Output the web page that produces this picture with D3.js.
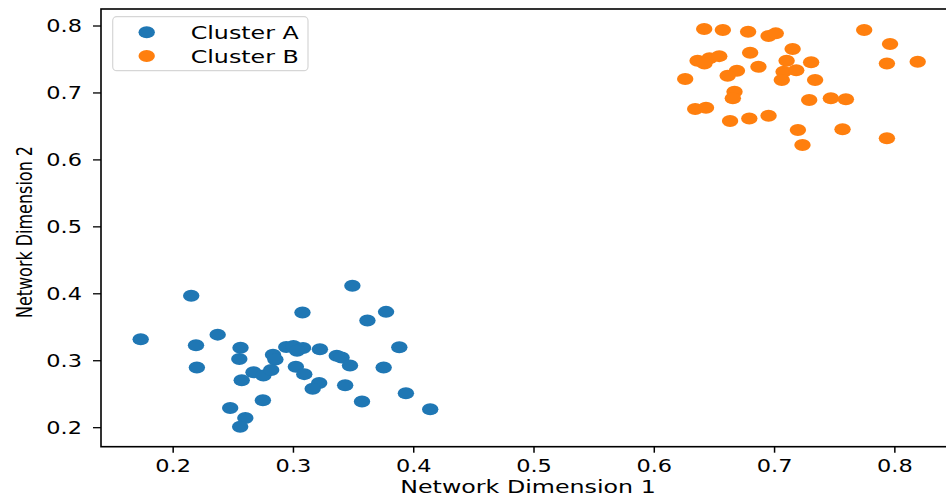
<!DOCTYPE html>
<html>
<head>
<meta charset="utf-8">
<script src="https://cdn.jsdelivr.net/npm/d3@7"></script>
<style>
  body { margin: 0; background: #fff; }
  svg { display: block; }
  text { font-family: "DejaVu Sans", sans-serif; fill: #000; }
</style>
</head>
<body>
<svg width="946" height="497"></svg>
<script>
// cluster points
let clusterA = [
    [0.215,0.397],[0.173,0.332],[0.349,0.412],[0.3075,0.372],[0.377,0.373],
    [0.3615,0.360],[0.237,0.339],[0.219,0.323],[0.256,0.3195],[0.388,0.320],
    [0.294,0.3205],[0.300,0.322],[0.308,0.319],[0.303,0.315],[0.322,0.317],
    [0.255,0.3026],[0.283,0.309],[0.285,0.302],[0.336,0.3075],[0.340,0.305],
    [0.2197,0.290],[0.347,0.293],[0.375,0.290],[0.302,0.291],[0.309,0.280],
    [0.2668,0.2827],[0.275,0.278],[0.2815,0.2862],[0.257,0.271],[0.3214,0.2667],
    [0.316,0.258],[0.343,0.2633],[0.2746,0.241],[0.357,0.239],[0.3935,0.2513],
    [0.2474,0.2294],[0.4137,0.2275],[0.260,0.2145],[0.2557,0.2015]
]
let clusterB = [
    [0.6415,0.7955],[0.657,0.794],[0.678,0.7915],[0.695,0.785],[0.701,0.789],
    [0.7745,0.794],[0.796,0.773],[0.715,0.7657],[0.6797,0.760],[0.636,0.748],
    [0.6459,0.7518],[0.654,0.755],[0.6417,0.744],[0.710,0.748],[0.7304,0.7458],
    [0.7934,0.744],[0.819,0.7467],[0.6866,0.739],[0.6687,0.733],[0.661,0.7258],
    [0.7075,0.7318],[0.718,0.734],[0.706,0.7193],[0.7337,0.7193],[0.6257,0.7208],
    [0.6667,0.7019],[0.6653,0.692],[0.7288,0.6895],[0.7468,0.692],[0.7593,0.6905],
    [0.634,0.676],[0.643,0.678],[0.663,0.658],[0.679,0.662],[0.695,0.666],
    [0.7194,0.6447],[0.7565,0.6457],[0.7934,0.6323],[0.7232,0.6223]
]
let seriesNames = ['Cluster A', 'Cluster B']
let colors = ['#1f77b4', '#ff7f0e']
let xTicks = [0.2, 0.3, 0.4, 0.5, 0.6, 0.7, 0.8]
let yTicks = [0.2, 0.3, 0.4, 0.5, 0.6, 0.7, 0.8]

// the picture is stretched sideways, so text and dots get this factor
let stretch = 1.32

let svg = d3.select('svg')

let x = d3.scaleLinear()
    .domain([0.14, 0.852])
    .range([101, 957.4])

let y = d3.scaleLinear()
    .domain([0.1716, 0.8254])
    .range([446.7, 9])

let stretchedText = (g, tx, ty, str, size, anchor) => {
    g.append('g')
        .attr('transform', `translate(${tx},${ty}) scale(${stretch},1)`)
        .append('text')
        .attr('font-size', size)
        .attr('text-anchor', anchor)
        .text(str)
}

// points
let series = [clusterA, clusterB]
series.forEach((pts, i) => {
    svg.append('g').selectAll('ellipse')
        .data(pts)
        .enter().append('ellipse')
        .attr('cx', d => x(d[0]))
        .attr('cy', d => y(d[1]))
        .attr('rx', 8.2)
        .attr('ry', 6)
        .attr('fill', colors[i])
})

// frame
let frame = svg.append('g')
frame.append('rect')
    .attr('x', x.range()[0])
    .attr('y', y.range()[1])
    .attr('width', x.range()[1] - x.range()[0])
    .attr('height', y.range()[0] - y.range()[1])
    .attr('fill', 'none')
    .attr('stroke', '#000')
    .attr('stroke-width', 1.6)

// x ticks
let xt = svg.append('g')
xTicks.forEach(t => {
    xt.append('line')
        .attr('x1', x(t)).attr('x2', x(t))
        .attr('y1', y.range()[0]).attr('y2', y.range()[0] + 6)
        .attr('stroke', '#000').attr('stroke-width', 1.5)
    stretchedText(xt, x(t), 472.3, t.toFixed(1), 17, 'middle')
})

// y ticks
let yt = svg.append('g')
yTicks.forEach(t => {
    yt.append('line')
        .attr('x1', x.range()[0] - 8).attr('x2', x.range()[0])
        .attr('y1', y(t)).attr('y2', y(t))
        .attr('stroke', '#000').attr('stroke-width', 1.3)
    stretchedText(yt, 82, y(t) + 6.2, t.toFixed(1), 17, 'end')
})

// axis titles
stretchedText(svg, 528, 492.5, 'Network Dimension 1', 18, 'middle')
svg.append('g')
    .attr('transform', `translate(31.5,232) scale(${stretch},1) rotate(-90)`)
    .append('text')
    .attr('font-size', 16)
    .attr('text-anchor', 'middle')
    .text('Network Dimension 2')

// legend
let legend = svg.append('g')
legend.append('rect')
    .attr('x', 112.7).attr('y', 16.7)
    .attr('width', 195.3).attr('height', 54)
    .attr('rx', 4)
    .attr('fill', '#fff').attr('fill-opacity', 0.8)
    .attr('stroke', '#d6d6d6').attr('stroke-width', 1.2)
seriesNames.forEach((name, i) => {
    let ly = 32.3 + i * 23.7
    legend.append('ellipse')
        .attr('cx', 146.7).attr('cy', ly)
        .attr('rx', 8.2).attr('ry', 6)
        .attr('fill', colors[i])
    stretchedText(legend, 190.7, ly + 6.6, name, 18, 'start')
})
</script>
</body>
</html>
